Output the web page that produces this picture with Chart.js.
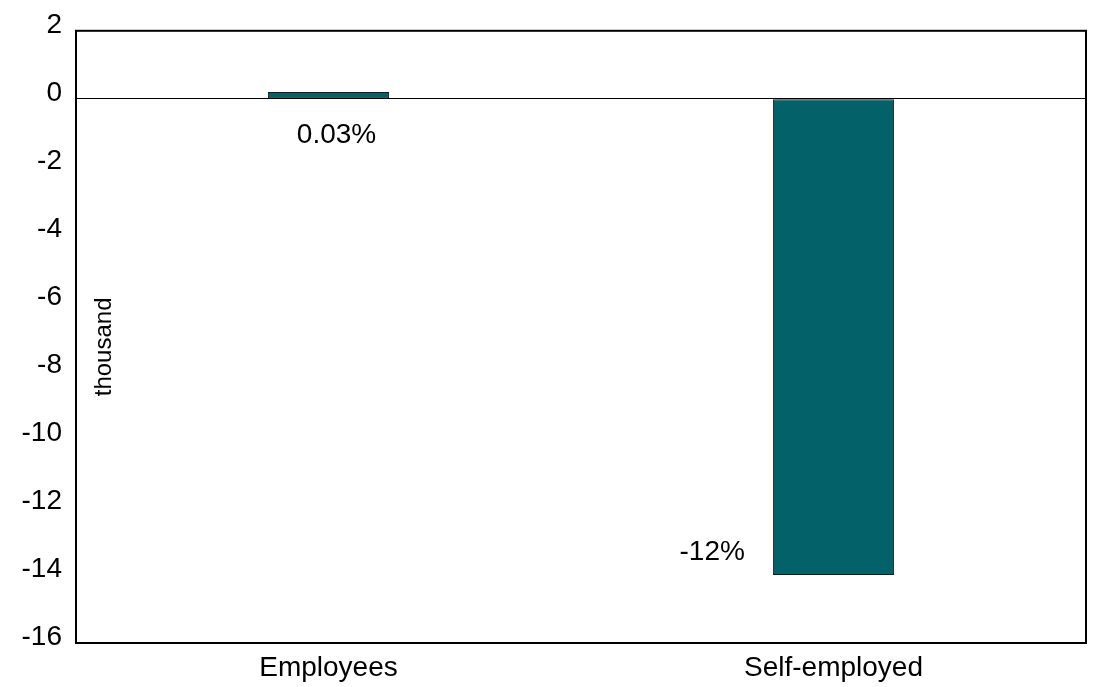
<!DOCTYPE html>
<html>
<head>
<meta charset="utf-8">
<script src="https://cdn.jsdelivr.net/npm/chart.js@4/dist/chart.umd.min.js"></script>
<style>
  html, body { margin: 0; padding: 0; background: #ffffff; }
  #wrap { width: 1094px; height: 687px; position: relative; }
</style>
</head>
<body>
<div id="wrap"><canvas id="c" width="1094" height="687"></canvas></div>
<script>
const categories = ['Employees', 'Self-employed'];
const values = [0.2, -14.0];
const pctLabels = ['0.03%', '-12%'];
const yTicks = [2, 0, -2, -4, -6, -8, -10, -12, -14, -16];
const yTitle = 'thousand';

const FONT = '"Liberation Sans", Arial, sans-serif';

const framePlugin = {
  id: 'frame',
  afterDraw(chart) {
    const ctx = chart.ctx;
    const a = chart.chartArea;
    ctx.save();
    ctx.strokeStyle = '#000';
    ctx.lineWidth = 2;
    ctx.strokeRect(a.left, a.top, a.right - a.left, a.bottom - a.top);
    // unit label inside plot
    ctx.translate(a.left + 28, (a.top + a.bottom) / 2 + 10);
    ctx.rotate(-Math.PI / 2);
    ctx.fillStyle = '#000';
    ctx.font = '24px ' + FONT;
    ctx.textAlign = 'center';
    ctx.textBaseline = 'middle';
    ctx.fillText(yTitle, 0, 0);
    ctx.restore();
    // value labels
    const meta = chart.getDatasetMeta(0);
    ctx.save();
    ctx.fillStyle = '#000';
    ctx.font = '28px ' + FONT;
    ctx.textBaseline = 'middle';
    meta.data.forEach((bar, i) => {
      const p = bar.getProps(['x', 'y', 'base', 'width'], true);
      if (values[i] >= 0) {
        ctx.textAlign = 'center';
        ctx.fillText(pctLabels[i], p.x + 8, p.base + 37);
      } else {
        ctx.textAlign = 'right';
        ctx.fillText(pctLabels[i], p.x - p.width / 2 - 28, p.y - 23);
      }
    });
    ctx.restore();
  }
};

new Chart(document.getElementById('c'), {
  type: 'bar',
  data: {
    labels: categories,
    datasets: [{
      data: values,
      backgroundColor: '#03616A',
      borderColor: '#1a1a1a',
      borderWidth: 1,
      borderSkipped: false,
      barPercentage: 0.3,
      categoryPercentage: 0.8
    }]
  },
  options: {
    responsive: false,
    animation: false,
    devicePixelRatio: 1,
    layout: { padding: { top: 30, right: 8, left: 0, bottom: 0 } },
    plugins: { legend: { display: false }, tooltip: { enabled: false } },
    scales: {
      x: {
        grid: { display: false, drawTicks: false },
        border: { display: false },
        ticks: { color: '#000', font: { family: FONT, size: 28 }, padding: 8 },
        afterFit(s) { s.height = 44; }
      },
      y: {
        min: -16,
        max: 2,
        afterBuildTicks(s) { s.ticks = yTicks.map(v => ({ value: v })); },
        grid: {
          drawTicks: false,
          color: c => (c.tick && c.tick.value === 0) ? '#000' : 'rgba(0,0,0,0)',
          lineWidth: 1
        },
        border: { display: false },
        ticks: {
          color: '#000',
          font: { family: FONT, size: 28 },
          padding: 14,
          labelOffset: -6,
          callback: v => String(v)
        },
        afterFit(s) { s.width = 76; }
      }
    }
  },
  plugins: [framePlugin]
});
</script>
</body>
</html>
